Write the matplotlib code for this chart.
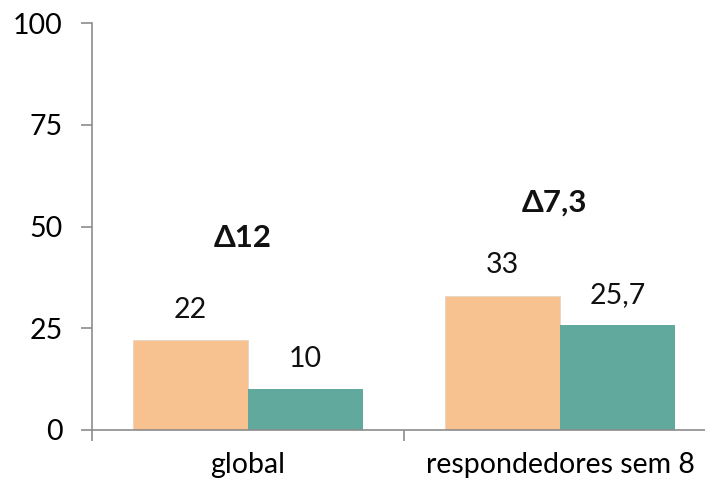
import matplotlib
matplotlib.use("Agg")
import matplotlib.pyplot as plt

plt.rcParams['font.family'] = ['Lato', 'DejaVu Sans']

categories = ["global", "respondedores sem 8"]
series_a = [22, 33]
series_b = [10, 25.7]
labels_a = ["22", "33"]
labels_b = ["10", "25,7"]
delta_labels = ["Δ12", "Δ7,3"]
delta_y = [47.2, 55.8]
y_ticks = [0, 25, 50, 75, 100]

color_a = "#F7C28F"
color_b = "#61A99C"
axis_color = "#8C8C8C"
fs = 20.5

W, H = 705, 484
fig = plt.figure(figsize=(W / 100, H / 100), dpi=100)
ax = fig.add_axes([92 / W, 54 / H, 624 / W, 407 / H])

x = list(range(len(categories)))
w = 0.37
ax.bar([i - w / 2 for i in x], series_a, width=w, color=color_a,
       edgecolor="#E5D5C5", linewidth=0.6, zorder=2)
ax.bar([i + w / 2 for i in x], series_b, width=w, color=color_b,
       edgecolor="none", zorder=2)

for i in x:
    ax.annotate(labels_a[i], (i - w / 2, series_a[i]), xytext=(0, 22),
                textcoords="offset points", ha="center", va="center",
                fontsize=fs, color="#111111")
    ax.annotate(labels_b[i], (i + w / 2, series_b[i]), xytext=(0, 22),
                textcoords="offset points", ha="center", va="center",
                fontsize=fs, color="#111111")
    ax.text(i - 0.018, delta_y[i], delta_labels[i], ha="center", va="center",
            fontsize=22.5, fontweight="bold", color="#111111")

ax.set_xlim(-0.5, len(categories) - 0.5)
ax.set_ylim(0, 100)
ax.set_yticks(y_ticks)
ax.set_yticklabels([str(t) for t in y_ticks], fontsize=fs)

# category boundaries carry the x ticks; names sit at the centres
ax.set_xticks([i - 0.5 for i in range(len(categories) + 1)])
ax.set_xticklabels([])
ax.set_xticks(x, minor=True)
ax.set_xticklabels(categories, minor=True, fontsize=fs)
ax.tick_params(axis="x", which="minor", length=0, pad=16)
ax.tick_params(axis="x", which="major", length=8, color=axis_color, width=1.2)
ax.tick_params(axis="y", length=8, color=axis_color, width=1.2, pad=13)

for s in ["top", "right"]:
    ax.spines[s].set_visible(False)
for s in ["left", "bottom"]:
    ax.spines[s].set_color(axis_color)
    ax.spines[s].set_linewidth(1.2)

fig.savefig("out.png", dpi=100)
